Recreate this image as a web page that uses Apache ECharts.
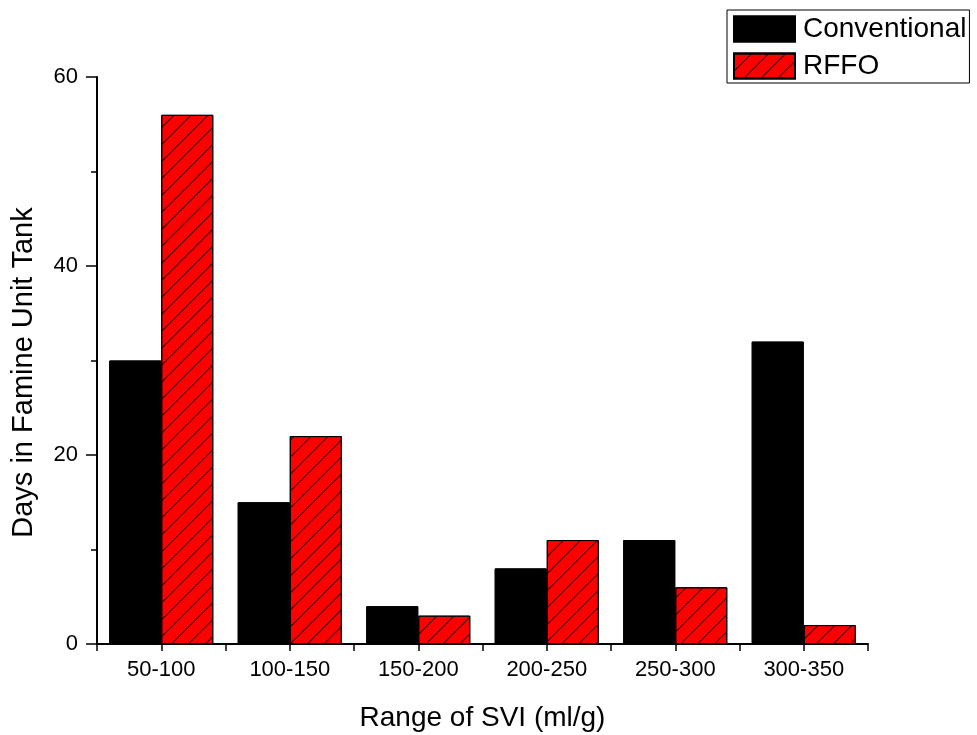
<!DOCTYPE html>
<html>
<head>
<meta charset="utf-8">
<script src="https://cdn.jsdelivr.net/npm/echarts@6/dist/echarts.min.js"></script>
<style>
  html, body { margin: 0; padding: 0; background: #fff; }
  #chart { width: 977px; height: 735px; }
</style>
</head>
<body>
<div id="chart"></div>
<script>
    const categories = ['50-100', '100-150', '150-200', '200-250', '250-300', '300-350'];
    const conventional = [30, 15, 4, 8, 11, 32];
    const rffo = [56, 22, 3, 11, 6, 2];
    const yTicks = [0, 20, 40, 60];

    const font = 'Liberation Sans, Arial, sans-serif';

    const myChart = echarts.init(document.getElementById('chart'));

    const option = {
        backgroundColor: '#fff',
        aria: {enabled: true, decal: {show: true}},
        textStyle: {fontFamily: font, color: '#000'},
        legend: {
            orient: 'vertical',
            left: 727,
            top: 10,
            padding: [5, 3, 3, 6],
            icon: 'rect',
            itemWidth: 61,
            itemHeight: 25,
            itemGap: 9,
            borderColor: '#000',
            borderWidth: 1,
            textStyle: {fontSize: 28, fontFamily: font, color: '#000', padding: [0, 0, 0, 3]},
            data: ['Conventional', 'RFFO']
        },
        grid: {left: 97, right: 109, top: 77, bottom: 91, outerBoundsMode: 'none', containLabel: false},
        xAxis: [
            {
                type: 'category',
                data: categories,
                name: 'Range of SVI (ml/g)',
                nameLocation: 'middle',
                nameGap: 60,
                nameTextStyle: {fontSize: 28, fontFamily: font, color: '#000'},
                axisLine: {lineStyle: {color: '#000', width: 2}},
                axisTick: {show: true, length: 7, lineStyle: {color: '#000', width: 1.5}},
                axisLabel: {fontSize: 22, color: '#000', margin: 15, fontFamily: font}
            },
            {
                // extra ticks at category centres
                type: 'category',
                data: categories,
                position: 'bottom',
                axisLine: {show: false},
                axisLabel: {show: false},
                axisTick: {show: true, alignWithLabel: true, length: 7, lineStyle: {color: '#000', width: 1.5}}
            }
        ],
        yAxis: {
            type: 'value',
            min: yTicks[0],
            max: yTicks[yTicks.length - 1],
            interval: 20,
            name: 'Days in Famine Unit Tank',
            nameLocation: 'middle',
            nameGap: 59,
            nameTextStyle: {fontSize: 29, fontFamily: font, color: '#000', padding: [0, 24, 0, 0]},
            splitLine: {show: false},
            axisLine: {show: true, lineStyle: {color: '#000', width: 2}},
            axisTick: {show: true, length: 11, lineStyle: {color: '#000', width: 1.5}},
            minorTick: {show: true, splitNumber: 2, length: 6, lineStyle: {color: '#000', width: 1.5}},
            axisLabel: {fontSize: 22, color: '#000', margin: 19, fontFamily: font}
        },
        series: [
            {
                name: 'Conventional',
                type: 'bar',
                data: conventional,
                barGap: '0%',
                barCategoryGap: '19%',
                itemStyle: {color: '#000', borderColor: '#000', borderWidth: 1, decal: {symbol: 'none'}}
            },
            {
                name: 'RFFO',
                type: 'bar',
                data: rffo,
                barGap: '0%',
                barCategoryGap: '19%',
                itemStyle: {
                    color: '#ff0000',
                    borderColor: '#000',
                    borderWidth: 1,
                    decal: {
                        symbol: 'rect',
                        color: '#000',
                        dashArrayX: [1, 0],
                        dashArrayY: [1, 11],
                        rotation: -Math.PI / 4
                    }
                }
            }
        ]
    };

    myChart.setOption(option);
</script>
</body>
</html>
